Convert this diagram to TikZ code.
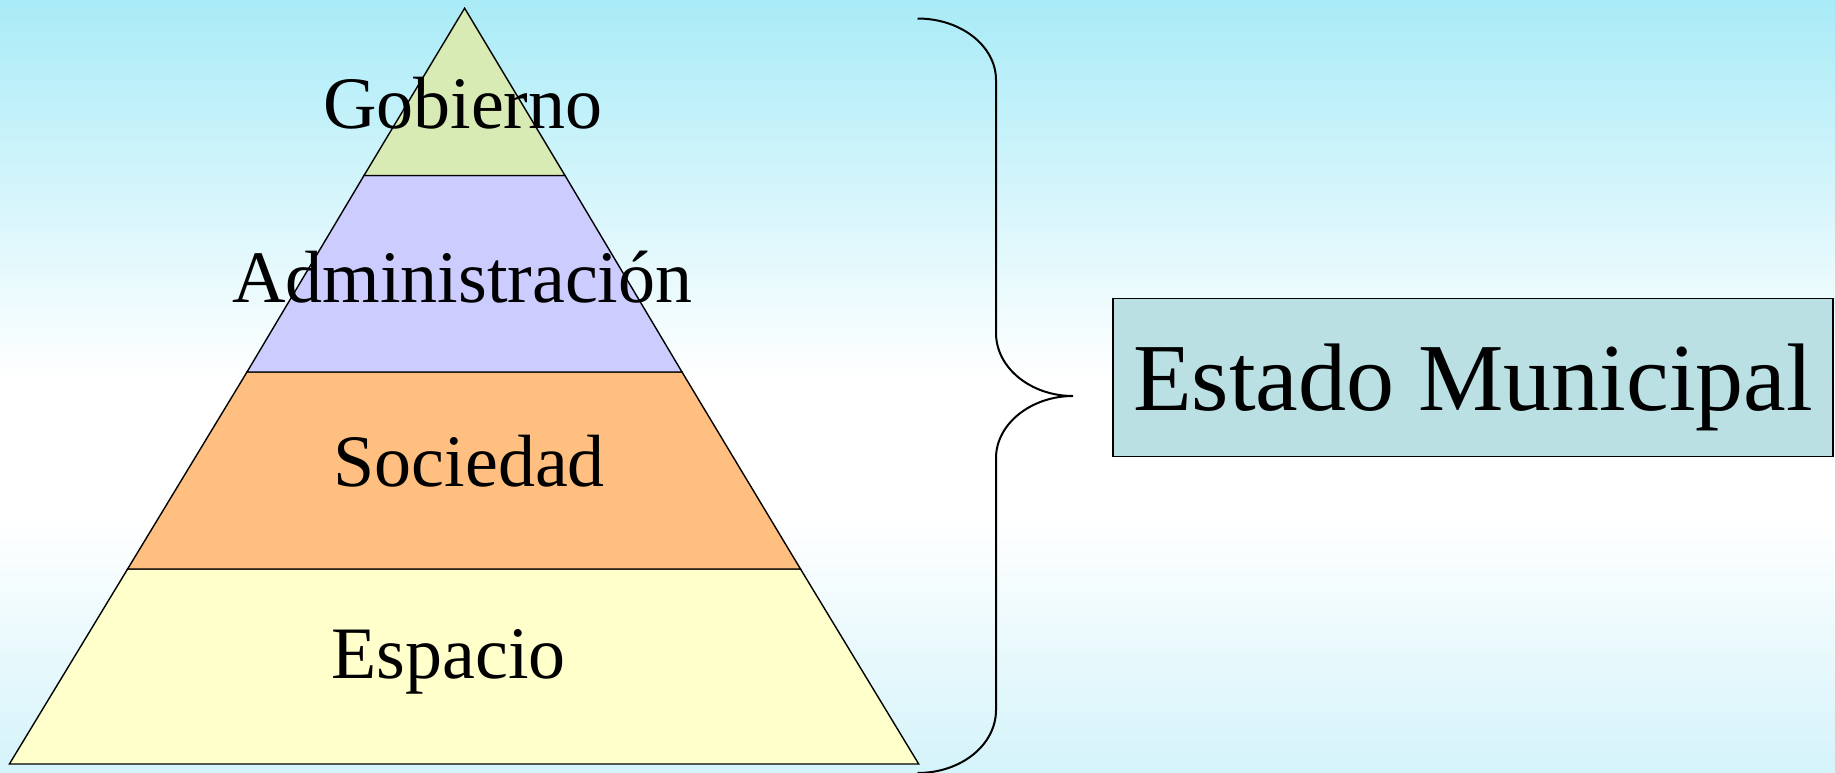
\documentclass[tikz,border=0pt]{standalone}
\usepackage{fontspec}
\setmainfont{Liberation Serif}
\definecolor{bgtop}{HTML}{A9EBF7}
\definecolor{bgbot}{HTML}{D4F3FA}
\definecolor{cgob}{HTML}{D9EBB4}
\definecolor{cadm}{HTML}{CCCCFF}
\definecolor{csoc}{HTML}{FFBF80}
\definecolor{cesp}{HTML}{FFFFCC}
\definecolor{cbox}{HTML}{BAE0E4}
\tikzset{
  band/.style={draw=black, line width=1.4pt, line join=miter},
  lbl/.style={font=\fontsize{74}{80}\selectfont, anchor=base, inner sep=0pt},
  brace/.style={draw=black, line width=2pt},
  bigbox/.style={draw=black, line width=1.4pt, fill=cbox, minimum width=720pt, minimum height=158pt, inner sep=0pt}
}
\begin{document}
\begin{tikzpicture}[x=1pt,y=-1pt]
\useasboundingbox (0,0) rectangle (1835,772);
\fill[top color=bgtop, bottom color=white, draw=none] (0,0) rectangle (1835,380);
\fill[white] (0,379) rectangle (1835,520);
\fill[top color=white, bottom color=bgbot, draw=none] (0,519) rectangle (1835,772);
% pyramid bands
\filldraw[band, fill=cesp] (127.6,569) -- (800.5,569) -- (918.7,764) -- (9.4,764) -- cycle;
\filldraw[band, fill=csoc] (247,372) -- (682,372) -- (800.5,569) -- (127.6,569) -- cycle;
\filldraw[band, fill=cadm] (364,175.5) -- (565,175.5) -- (682,372) -- (247,372) -- cycle;
\filldraw[band, fill=cgob] (464.6,8.2) -- (565,175.5) -- (364,175.5) -- cycle;
% labels
\node[lbl] (gob) at (462.8,128.7) {Gobierno};
\node[lbl] (adm) at (462.3,302) {Administración};
\node[lbl] (soc) at (469.3,486.8) {Sociedad};
\node[lbl] (esp) at (448.8,678.8) {Espacio};
% box
\node[bigbox] (est) at (1472.9,377.4) {};
\node[font=\fontsize{96}{100}\selectfont, anchor=base west, inner sep=0pt] (estlbl) at (1133,410) {Estado Municipal};
% brace
\coordinate (bt) at (917.5,18.5);
\coordinate (bb) at (917.5,773);
\coordinate (tip) at (1073,396);
\draw[brace] (bt) .. controls (961,18.5) and (996,46) .. (996,80)
  -- (996,333) .. controls (996,368) and (1031,396) .. (tip)
  .. controls (1031,396) and (996,424) .. (996,458)
  -- (996,710) .. controls (996,745) and (961,773) .. (bb);
\end{tikzpicture}
\end{document}
